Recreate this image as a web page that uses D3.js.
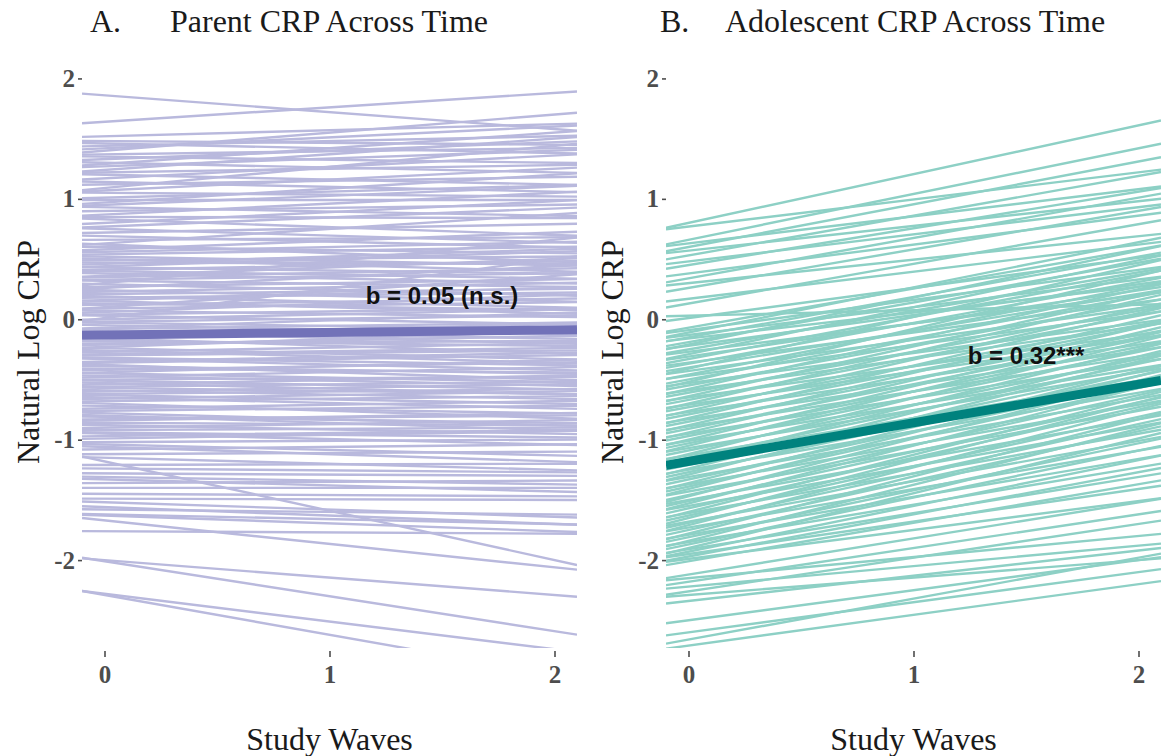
<!DOCTYPE html>
<html>
<head>
<meta charset="utf-8">
<script src="https://cdn.jsdelivr.net/npm/d3@7"></script>
<style>
  body { margin: 0; background: #fff; }
  svg { display: block; }
</style>
</head>
<body>
<svg id="chart"></svg>
<script>
const width = 1161;
const height = 756;

const waves = [0, 1, 2];
const yTicks = [-2, -1, 0, 1, 2];

// fitted log CRP per person: [wave 0, wave 2]
const parentFits = [
  [1.86, 1.58], [1.64, 1.88], [1.52, 1.62], [1.48, 1.45], [1.46, 1.38], [1.44, 1.52],
  [1.42, 1.60], [1.40, 1.70], [1.37, 1.42], [1.35, 1.30], [1.33, 1.47], [1.30, 1.22],
  [1.29, 1.55], [1.27, 1.40], [1.24, 1.50], [1.22, 1.28], [1.20, 1.12], [1.17, 1.36],
  [1.14, 1.06], [1.12, 1.18], [1.09, 1.44], [1.07, 1.25], [1.05, 1.02], [1.01, 1.11],
  [0.99, 0.99], [0.97, 1.20], [0.95, 1.10], [0.93, 0.86], [0.90, 0.95], [0.87, 1.05],
  [0.85, 0.84], [0.83, 0.70], [0.80, 0.98], [0.77, 0.92], [0.75, 0.64], [0.72, 0.79],
  [0.69, 0.60], [0.66, 0.68], [0.63, 0.87], [0.62, 0.48], [0.60, 0.55], [0.58, 0.72],
  [0.56, 0.64], [0.54, 0.60], [0.52, 0.45], [0.50, 0.40], [0.49, 0.52], [0.47, 0.46],
  [0.46, 0.58], [0.44, 0.56], [0.43, 0.38], [0.41, 0.48], [0.40, 0.34], [0.38, 0.30],
  [0.36, 0.50], [0.35, 0.42], [0.33, 0.38], [0.32, 0.27], [0.30, 0.66], [0.29, 0.20],
  [0.27, 0.33], [0.26, 0.44], [0.24, 0.15], [0.23, 0.30], [0.21, 0.25], [0.19, 0.10],
  [0.18, 0.22], [0.16, 0.26], [0.15, 0.05], [0.13, 0.08], [0.12, 0.17], [0.10, 0.36],
  [0.09, 0.14], [0.07, 0.02], [0.06, 0.20], [0.04, 0.09], [0.03, -0.04], [0.01, 0.50],
  [0.00, 0.08], [-0.02, 0.03], [-0.03, -0.08], [-0.05, -0.12], [-0.07, 0.05], [-0.08, -0.03],
  [-0.10, -0.16], [-0.11, -0.20], [-0.13, -0.04], [-0.15, -0.10], [-0.16, -0.28], [-0.18, -0.22],
  [-0.20, -0.18], [-0.21, -0.14], [-0.23, -0.10], [-0.24, -0.33], [-0.26, -0.36], [-0.27, -0.20],
  [-0.29, -0.24], [-0.30, -0.26], [-0.32, -0.38], [-0.33, -0.42], [-0.35, -0.28], [-0.36, -0.30],
  [-0.38, -0.50], [-0.39, -0.45], [-0.41, -0.44], [-0.42, -0.36], [-0.44, -0.34], [-0.45, -0.52],
  [-0.47, -0.55], [-0.48, -0.40], [-0.50, -0.48], [-0.51, -0.58], [-0.53, -0.62], [-0.54, -0.47],
  [-0.56, -0.52], [-0.57, -0.62], [-0.59, -0.66], [-0.60, -0.54], [-0.62, -0.58], [-0.63, -0.70],
  [-0.65, -0.74], [-0.66, -0.60], [-0.68, -0.64], [-0.70, -0.82], [-0.72, -0.78], [-0.74, -0.68],
  [-0.76, -0.72], [-0.78, -0.88], [-0.80, -0.92], [-0.81, -0.86], [-0.83, -0.80], [-0.84, -0.78],
  [-0.86, -0.88], [-0.88, -0.95], [-0.90, -0.84], [-0.92, -0.90], [-0.94, -0.98], [-0.95, -1.04],
  [-0.97, -0.92], [-0.99, -0.93], [-1.02, -1.00], [-1.04, -1.13], [-1.06, -1.18], [-1.08, -1.04],
  [-1.12, -1.10], [-1.15, -1.25], [-1.18, -2.00], [-1.21, -1.20], [-1.24, -1.27], [-1.28, -1.30],
  [-1.31, -1.37], [-1.33, -1.43], [-1.36, -1.34], [-1.40, -1.40], [-1.45, -1.47], [-1.49, -1.50],
  [-1.52, -1.64], [-1.56, -1.70], [-1.58, -1.62], [-1.62, -1.70], [-1.63, -1.76], [-1.67, -2.06],
  [-1.76, -1.78], [-2.00, -2.29], [-2.01, -2.59], [-2.28, -2.74], [-2.29, -2.95]
];
const parentMean = [-0.13, -0.09];

const teenFits = [
  [0.80, 1.61], [0.77, 1.22], [0.66, 1.42], [0.63, 1.08], [0.60, 1.31], [0.57, 0.98],
  [0.53, 1.19], [0.48, 0.93], [0.45, 1.06], [0.38, 0.86], [0.34, 1.01], [0.30, 0.69],
  [0.26, 0.90], [0.17, 0.62], [0.13, 0.79], [0.03, 0.12], [0.01, 0.51],
  [-0.07, 0.58], [-0.09, 0.41], [-0.11, 0.64], [-0.13, 0.33], [-0.15, 0.52], [-0.16, 0.27],
  [-0.19, 0.47], [-0.21, 0.57], [-0.22, 0.29], [-0.25, 0.39], [-0.27, 0.20], [-0.29, 0.49],
  [-0.31, 0.24], [-0.33, 0.37], [-0.36, 0.14], [-0.37, 0.31], [-0.40, 0.21], [-0.41, 0.45],
  [-0.43, 0.09], [-0.46, 0.27], [-0.47, 0.04], [-0.50, 0.19], [-0.52, 0.36], [-0.53, -0.03],
  [-0.55, 0.13], [-0.58, 0.25], [-0.59, -0.06], [-0.61, 0.07], [-0.64, 0.19], [-0.65, -0.13],
  [-0.67, 0.03], [-0.70, 0.16], [-0.71, -0.16], [-0.73, -0.05], [-0.76, 0.09], [-0.77, -0.21],
  [-0.79, -0.07], [-0.82, 0.05], [-0.83, -0.26], [-0.85, -0.13], [-0.88, -0.01], [-0.89, -0.31],
  [-0.91, -0.17], [-0.94, -0.07], [-0.95, -0.36], [-0.97, -0.23], [-1.00, -0.11], [-1.01, -0.41],
  [-1.03, -0.27], [-1.05, -0.15], [-1.07, -0.44], [-1.09, -0.33], [-1.12, -0.19], [-1.13, -0.51],
  [-1.15, -0.37], [-1.18, -0.25], [-1.19, -0.56], [-1.21, -0.43], [-1.24, -0.31], [-1.25, -0.61],
  [-1.27, -0.47], [-1.29, -0.35], [-1.31, -0.66], [-1.33, -0.53], [-1.36, -0.43], [-1.37, -0.71],
  [-1.39, -0.57], [-1.41, -0.47], [-1.43, -0.76], [-1.46, -0.63], [-1.47, -0.51], [-1.50, -0.83],
  [-1.51, -0.69], [-1.53, -0.57], [-1.55, -0.89], [-1.57, -0.73], [-1.60, -0.65], [-1.61, -0.95],
  [-1.63, -0.81], [-1.65, -0.69], [-1.68, -1.01], [-1.69, -0.87], [-1.71, -0.75], [-1.73, -1.09],
  [-1.75, -0.93], [-1.78, -0.83], [-1.79, -1.16], [-1.81, -1.03], [-1.84, -0.91], [-1.85, -1.23],
  [-1.87, -1.09], [-1.90, -0.99], [-1.91, -1.31], [-1.93, -1.17], [-1.95, -1.41], [-1.97, -1.27],
  [-1.99, -1.51], [-2.01, -1.37],
  [-2.12, -1.52], [-2.15, -1.80], [-2.18, -1.62], [-2.22, -1.88], [-2.26, -1.70], [-2.29, -2.00],
  [-2.34, -1.92], [-2.50, -2.00], [-2.60, -2.10], [-2.66, -1.98], [-2.71, -2.20]
];
const teenMean = [-1.18, -0.54];

const panels = [
  { id: "p", letter: "A.", title: "Parent CRP Across Time", left: 82, letterX: 90, titleX: 170,
    fits: parentFits, mean: parentMean, light: "#b9b9dd", dark: "#7272b8",
    note: "b = 0.05 (n.s.)", noteAt: [1.5, 0.2] },
  { id: "t", letter: "B.", title: "Adolescent CRP Across Time", left: 666, letterX: 660, titleX: 725,
    fits: teenFits, mean: teenMean, light: "#8dd0c5", dark: "#00827e",
    note: "b = 0.32***", noteAt: [1.5, -0.3] }
];

const panelW = 495, plotTop = 70, plotBottom = 648;
const serif = "'Liberation Serif', 'Times New Roman', serif";

const svg = d3.select("#chart")
    .attr("width", width)
    .attr("height", height)
    .attr("viewBox", [0, 0, width, height]);

svg.append("rect").attr("width", width).attr("height", height).attr("fill", "#fff");

const y = d3.scaleLinear().domain([-2.73, 2.07]).range([plotBottom, plotTop]);

// value of a fitted line at any wave
const at = (f, w) => f[0] + (f[1] - f[0]) / 2 * w;

panels.forEach(p => {
    const x = d3.scaleLinear().domain([-0.1, 2.1]).range([p.left, p.left + panelW]);
    const xs = x.domain();
    const line = d3.line().x(d => x(d[0])).y(d => y(d[1]));
    const seg = f => xs.map(w => [w, at(f, w)]);

    svg.append("clipPath").attr("id", "clip-" + p.id)
      .append("rect")
        .attr("x", p.left).attr("y", plotTop)
        .attr("width", panelW).attr("height", plotBottom - plotTop);

    const g = svg.append("g").attr("clip-path", `url(#clip-${p.id})`);

    g.selectAll("path.person")
      .data(p.fits)
      .join("path")
        .attr("class", "person")
        .attr("d", f => line(seg(f)))
        .attr("fill", "none")
        .attr("stroke", p.light)
        .attr("stroke-width", 2.4);

    g.append("path")
        .attr("d", line(seg(p.mean)))
        .attr("fill", "none")
        .attr("stroke", p.dark)
        .attr("stroke-width", 9);

    svg.append("text")
        .attr("x", x(p.noteAt[0]))
        .attr("y", y(p.noteAt[1]))
        .attr("text-anchor", "middle")
        .attr("dominant-baseline", "central")
        .attr("font-family", "'Liberation Sans', Arial, sans-serif")
        .attr("font-weight", "bold")
        .attr("font-size", 24)
        .attr("fill", "#111")
        .text(p.note);

    // axes
    const yAxis = svg.append("g")
        .attr("transform", `translate(${p.left},0)`)
        .call(d3.axisLeft(y).tickValues(yTicks).tickSize(4).tickPadding(3).tickFormat(d => String(d)));
    const xAxis = svg.append("g")
        .attr("transform", `translate(0,${plotBottom + 3})`)
        .call(d3.axisBottom(x).tickValues(waves).tickSize(6).tickPadding(8).tickFormat(d => String(d)));

    [yAxis, xAxis].forEach(a => {
        a.select(".domain").remove();
        a.selectAll("line").attr("stroke", "#4d4d4d").attr("stroke-width", 1.6);
        a.selectAll("text")
            .attr("font-family", serif)
            .attr("font-weight", "bold")
            .attr("font-size", 25)
            .attr("fill", "#4d4d4d");
    });

    // titles
    svg.append("text")
        .attr("x", p.letterX).attr("y", 32)
        .attr("font-family", serif).attr("font-size", 32).attr("fill", "#1a1a1a")
        .text(p.letter);
    svg.append("text")
        .attr("x", p.titleX).attr("y", 32)
        .attr("font-family", serif).attr("font-size", 32).attr("fill", "#1a1a1a")
        .text(p.title);

    svg.append("text")
        .attr("x", x(1)).attr("y", 750)
        .attr("text-anchor", "middle")
        .attr("font-family", serif).attr("font-size", 32).attr("fill", "#1a1a1a")
        .text("Study Waves");

    svg.append("text")
        .attr("transform", `translate(${p.left - 43},352) rotate(-90)`)
        .attr("text-anchor", "middle")
        .attr("font-family", serif).attr("font-size", 32).attr("fill", "#1a1a1a")
        .text("Natural Log CRP");
});
</script>
</body>
</html>
